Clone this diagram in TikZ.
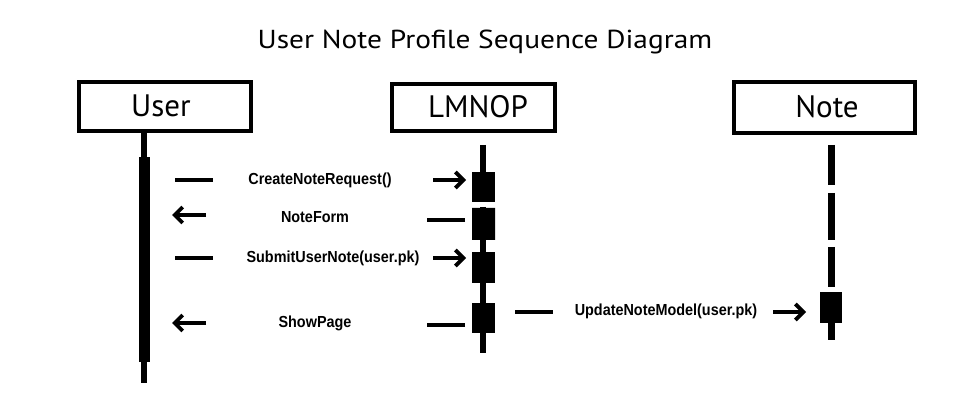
\documentclass[tikz,border=0pt]{standalone}
\usepackage{fontspec}
\setmainfont{PT Sans}
\newfontfamily\titlefont[FakeStretch=1.13]{PT Sans}
\newfontfamily\msgfont[FakeStretch=0.9]{Liberation Sans}
\usetikzlibrary{arrows.meta,shapes.misc}
\begin{document}
\begin{tikzpicture}[x=1pt,y=-1pt,
  actor/.style={draw,line width=4pt,inner sep=0,font=\fontsize{31}{31}\selectfont},
  lbl/.style={inner sep=0,font=\fontsize{31}{31}\selectfont},
  life/.style={line width=6pt},
  nlife/.style={line width=7pt},
  msg/.style={font=\msgfont\bfseries\fontsize{16}{16}\selectfont,inner sep=0},
  seg/.style={line width=4.5pt},
  arr/.style={line width=3.8pt,-{Straight Barb[length=8pt,width=16pt]}},
  act/.style={fill=black,inner sep=0,draw=none}
]
\useasboundingbox (0,0) rectangle (974,419);
% title
\node[font=\titlefont\fontsize{26}{26}\selectfont,inner sep=0] (title) at (485,42) {User Note Profile Sequence Diagram};
% actors
\node[actor,minimum width=172pt,minimum height=49pt] (userbox) at (165,106.5) {};
\node[lbl] (userlbl) at (161,106) {User};
\node[actor,minimum width=163pt,minimum height=47pt] (lmnopbox) at (473.5,107.5) {};
\node[lbl] (lmnoplbl) at (478,107) {LMNOP};
\node[actor,minimum width=181pt,minimum height=51pt] (notebox) at (824.5,107.5) {};
\node[lbl] (notelbl) at (827,107) {Note};
% User lifeline
\coordinate (uTop) at (144,133);
\coordinate (uBot) at (144,383);
\draw[life] (uTop) -- (uBot);
\node[act,minimum width=11pt,minimum height=205pt] (uact) at (144.5,259.5) {};
% LMNOP lifeline
\coordinate (lTop) at (483,145);
\coordinate (lGapA) at (483,202);
\coordinate (lGapB) at (483,207);
\coordinate (lBot) at (483,353);
\draw[life] (lTop) -- (lGapA);
\draw[life] (lGapB) -- (lBot);
\node[act,minimum width=23pt,minimum height=30pt] (act1) at (483.5,187) {};
\node[act,chamfered rectangle,chamfered rectangle xsep=3pt,chamfered rectangle ysep=3pt,minimum width=23pt,minimum height=32pt] (act2) at (483.5,224) {};
\node[act,minimum width=23pt,minimum height=31pt] (act3) at (483.5,267.5) {};
\node[act,minimum width=23pt,minimum height=30pt] (act4) at (483.5,318) {};
% Note lifeline
\draw[nlife] (831,145) -- (831,185);
\draw[nlife] (831,193) -- (831,240);
\draw[nlife] (831,247) -- (831,287);
\node[act,minimum width=22pt,minimum height=31pt] (nact) at (831,307.5) {};
\coordinate (nBot) at (831,340);
\draw[nlife] (nact.south) -- (nBot);
% message 1
\coordinate (m1a) at (175,180); \coordinate (m1b) at (213,180);
\coordinate (m1c) at (433,180); \coordinate (m1d) at (466,180);
\draw[seg] (m1a) -- (m1b);
\node[msg] (m1) at (320,180) {CreateNoteRequest()};
\draw[arr] (m1c) -- (m1d);
% message 2
\coordinate (m2a) at (465,220); \coordinate (m2b) at (427,220);
\coordinate (m2c) at (206,215); \coordinate (m2d) at (172,215);
\draw[seg] (m2a) -- (m2b);
\node[msg] (m2) at (315,217) {NoteForm};
\draw[arr] (m2c) -- (m2d);
% message 3
\coordinate (m3a) at (175,258); \coordinate (m3b) at (213,258);
\coordinate (m3c) at (433,258); \coordinate (m3d) at (466,258);
\draw[seg] (m3a) -- (m3b);
\node[msg] (m3) at (333,258) {SubmitUserNote(user.pk)};
\draw[arr] (m3c) -- (m3d);
% message 4
\coordinate (m4a) at (465,325); \coordinate (m4b) at (427,325);
\coordinate (m4c) at (206,323); \coordinate (m4d) at (172,323);
\draw[seg] (m4a) -- (m4b);
\node[msg] (m4) at (315,323) {ShowPage};
\draw[arr] (m4c) -- (m4d);
% message 5
\coordinate (m5a) at (515,312); \coordinate (m5b) at (553,312);
\coordinate (m5c) at (773,312); \coordinate (m5d) at (806,312);
\draw[seg] (m5a) -- (m5b);
\node[msg] (m5) at (666,311) {UpdateNoteModel(user.pk)};
\draw[arr] (m5c) -- (m5d);
\end{tikzpicture}
\end{document}
